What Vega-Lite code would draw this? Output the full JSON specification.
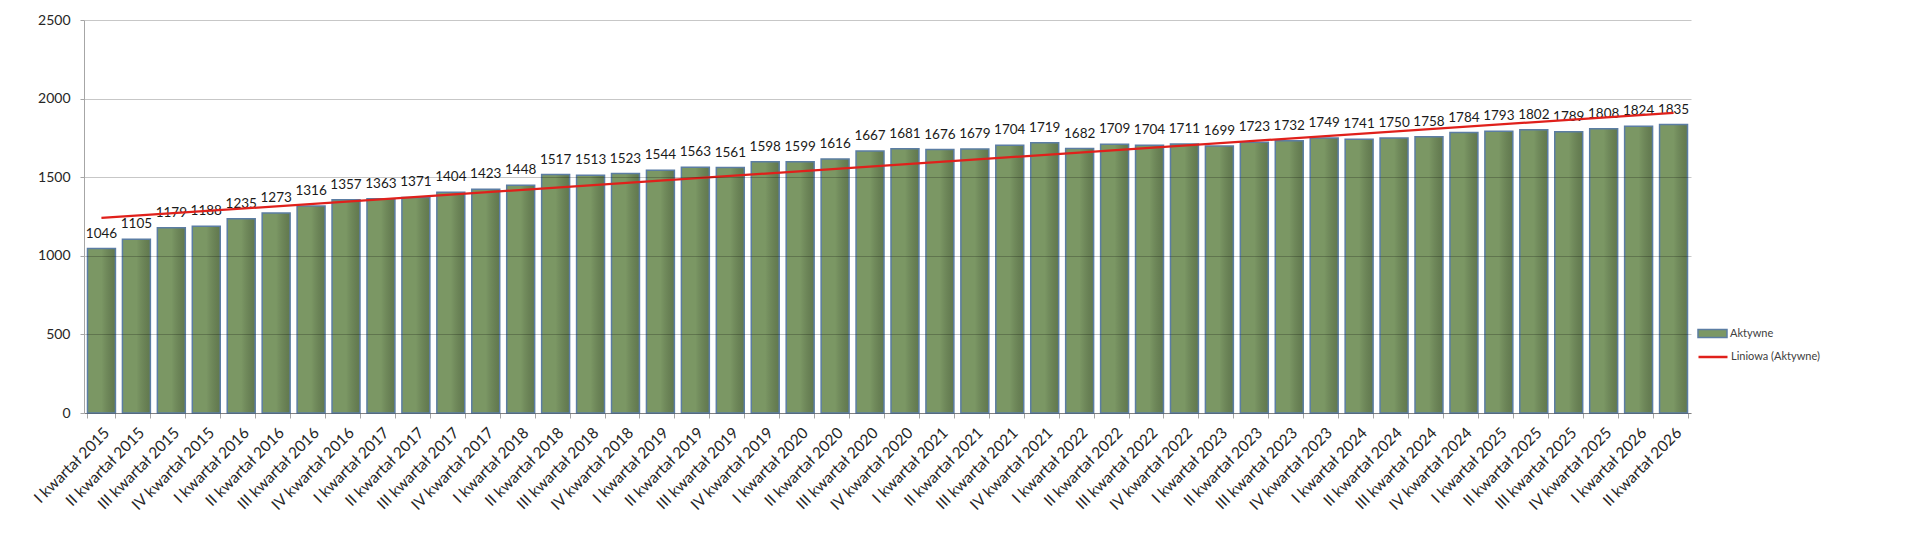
{
  "$schema": "https://vega.github.io/schema/vega-lite/v6.json",
  "width": 1607,
  "height": 393,
  "autosize": {"type": "none"},
  "padding": {"left": 84, "top": 20, "right": 229, "bottom": 128},
  "background": "white",
  "datasets": {
    "kwartaly": [
      {"i": 1, "q": "I kwartał 2015", "v": 1046},
      {"i": 2, "q": "II kwartał 2015", "v": 1105},
      {"i": 3, "q": "III kwartał 2015", "v": 1179},
      {"i": 4, "q": "IV kwartał 2015", "v": 1188},
      {"i": 5, "q": "I kwartał 2016", "v": 1235},
      {"i": 6, "q": "II kwartał 2016", "v": 1273},
      {"i": 7, "q": "III kwartał 2016", "v": 1316},
      {"i": 8, "q": "IV kwartał 2016", "v": 1357},
      {"i": 9, "q": "I kwartał 2017", "v": 1363},
      {"i": 10, "q": "II kwartał 2017", "v": 1371},
      {"i": 11, "q": "III kwartał 2017", "v": 1404},
      {"i": 12, "q": "IV kwartał 2017", "v": 1423},
      {"i": 13, "q": "I kwartał 2018", "v": 1448},
      {"i": 14, "q": "II kwartał 2018", "v": 1517},
      {"i": 15, "q": "III kwartał 2018", "v": 1513},
      {"i": 16, "q": "IV kwartał 2018", "v": 1523},
      {"i": 17, "q": "I kwartał 2019", "v": 1544},
      {"i": 18, "q": "II kwartał 2019", "v": 1563},
      {"i": 19, "q": "III kwartał 2019", "v": 1561},
      {"i": 20, "q": "IV kwartał 2019", "v": 1598},
      {"i": 21, "q": "I kwartał 2020", "v": 1599},
      {"i": 22, "q": "II kwartał 2020", "v": 1616},
      {"i": 23, "q": "III kwartał 2020", "v": 1667},
      {"i": 24, "q": "IV kwartał 2020", "v": 1681},
      {"i": 25, "q": "I kwartał 2021", "v": 1676},
      {"i": 26, "q": "II kwartał 2021", "v": 1679},
      {"i": 27, "q": "III kwartał 2021", "v": 1704},
      {"i": 28, "q": "IV kwartał 2021", "v": 1719},
      {"i": 29, "q": "I kwartał 2022", "v": 1682},
      {"i": 30, "q": "II kwartał 2022", "v": 1709},
      {"i": 31, "q": "III kwartał 2022", "v": 1704},
      {"i": 32, "q": "IV kwartał 2022", "v": 1711},
      {"i": 33, "q": "I kwartał 2023", "v": 1699},
      {"i": 34, "q": "II kwartał 2023", "v": 1723},
      {"i": 35, "q": "III kwartał 2023", "v": 1732},
      {"i": 36, "q": "IV kwartał 2023", "v": 1749},
      {"i": 37, "q": "I kwartał 2024", "v": 1741},
      {"i": 38, "q": "II kwartał 2024", "v": 1750},
      {"i": 39, "q": "III kwartał 2024", "v": 1758},
      {"i": 40, "q": "IV kwartał 2024", "v": 1784},
      {"i": 41, "q": "I kwartał 2025", "v": 1793},
      {"i": 42, "q": "II kwartał 2025", "v": 1802},
      {"i": 43, "q": "III kwartał 2025", "v": 1789},
      {"i": 44, "q": "IV kwartał 2025", "v": 1808},
      {"i": 45, "q": "I kwartał 2026", "v": 1824},
      {"i": 46, "q": "II kwartał 2026", "v": 1835}
    ]
  },
  "data": {"name": "kwartaly"},
  "encoding": {
    "x": {
      "field": "q",
      "type": "ordinal",
      "sort": null,
      "scale": {"paddingInner": 0.2, "paddingOuter": 0.1},
      "axis": {
        "title": null,
        "labelAngle": -45,
        "labelAlign": "right",
        "labelBaseline": "top",
        "labelFontSize": 15.5,
        "labelColor": "#262626",
        "labelPadding": 7,
        "tickBand": "extent",
        "tickSize": 5,
        "tickColor": "#A6A6A6",
        "domainColor": "#A6A6A6",
        "grid": false
      }
    },
    "y": {
      "field": "v",
      "type": "quantitative",
      "scale": {"domain": [0, 2500], "nice": false},
      "axis": {
        "title": null,
        "values": [0, 500, 1000, 1500, 2000, 2500],
        "format": "d",
        "labelFontSize": 14,
        "labelColor": "#262626",
        "labelPadding": 10,
        "tickSize": 4,
        "tickColor": "#A6A6A6",
        "domainColor": "#A6A6A6",
        "gridColor": "#000000",
        "gridOpacity": 0.22,
        "zindex": 1
      }
    }
  },
  "layer": [
    {
      "mark": {"type": "bar", "fillOpacity": 1},
      "encoding": {
        "fill": {
          "datum": "Aktywne",
          "scale": {"range": ["#7B9764"]},
          "legend": {
            "title": null,
            "orient": "none",
            "legendX": 1613,
            "legendY": 298,
            "padding": 0,
            "symbolType": "M-1,-0.28H1V0.28H-1Z",
            "symbolSize": 841,
            "symbolStrokeColor": "#5B7DA3",
            "symbolStrokeWidth": 1.5,
            "labelFontSize": 11,
            "labelColor": "#404040",
            "labelOffset": 2
          }
        }
      }
    },
    {
      "mark": {
        "type": "bar",
        "stroke": "#5B7DA3",
        "strokeWidth": 1.5,
        "fill": {
          "gradient": "linear",
          "x1": 0, "x2": 1, "y1": 0, "y2": 0,
          "stops": [
            {"offset": 0, "color": "rgba(0,0,0,0)"},
            {"offset": 0.5, "color": "rgba(0,0,0,0)"},
            {"offset": 1, "color": "rgba(30,40,20,0.28)"}
          ]
        }
      }
    },
    {
      "mark": {"type": "text", "baseline": "alphabetic", "dy": -11, "fontSize": 13.5, "color": "#1A1A1A"},
      "encoding": {"text": {"field": "v", "type": "quantitative"}}
    },
    {
      "transform": [
        {"regression": "v", "on": "i"},
        {"lookup": "i", "from": {"data": {"name": "kwartaly"}, "key": "i", "fields": ["q"]}}
      ],
      "mark": {"type": "line", "strokeWidth": 2.25},
      "encoding": {
        "stroke": {
          "datum": "Liniowa (Aktywne)",
          "scale": {"range": ["#E0201B"]},
          "legend": {
            "title": null,
            "orient": "none",
            "legendX": 1613,
            "legendY": 321,
            "padding": 0,
            "symbolType": "stroke",
            "symbolSize": 841,
            "symbolStrokeWidth": 2.5,
            "labelFontSize": 11,
            "labelColor": "#404040",
            "labelOffset": 2
          }
        }
      }
    }
  ],
  "config": {
    "font": "Lato",
    "view": {"stroke": null}
  }
}
